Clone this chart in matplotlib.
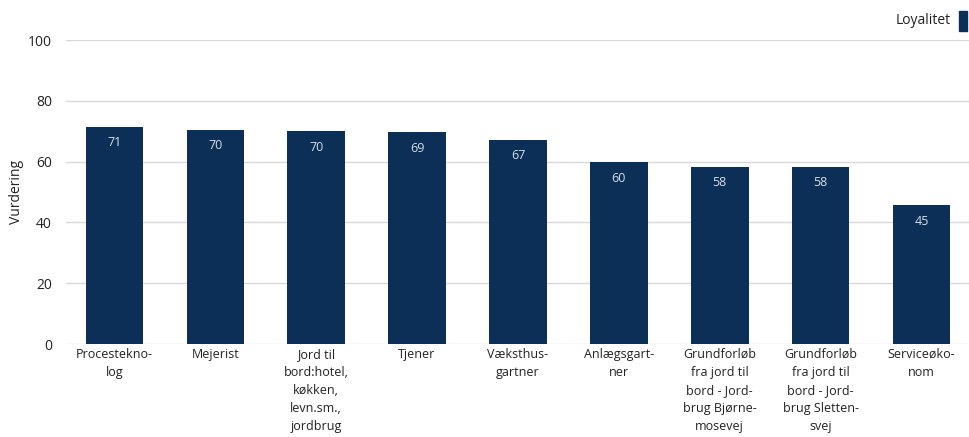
import numpy as np
import matplotlib.pyplot as plt
from matplotlib.patches import Rectangle

plt.rcParams['font.family'] = ['Open Sans', 'DejaVu Sans']

# data
categories = [
    "Procestekno-\nlog",
    "Mejerist",
    "Jord til\nbord:hotel,\nkøkken,\nlevn.sm.,\njordbrug",
    "Tjener",
    "Væksthus-\ngartner",
    "Anlægsgart-\nner",
    "Grundforløb\nfra jord til\nbord - Jord-\nbrug Bjørne-\nmosevej",
    "Grundforløb\nfra jord til\nbord - Jord-\nbrug Sletten-\nsvej",
    "Serviceøko-\nnom",
]
values = [71.4, 70.4, 70.0, 69.6, 67.1, 59.8, 58.2, 58.2, 45.6]
labels = ["71", "70", "70", "69", "67", "60", "58", "58", "45"]
series_name = "Loyalitet"
bar_color = "#0b2f57"

W, H = 970, 437
fig = plt.figure(figsize=(W / 100, H / 100), dpi=100)
ax = fig.add_axes([66 / W, 1 - 344 / H, 904 / W, 304 / H])

x = np.arange(len(categories))
ax.bar(x, values, width=0.57, color=bar_color, zorder=3)
for xi, v, lab in zip(x, values, labels):
  ax.text(xi, v - 5.2, lab, ha="center", va="center", color="#d8dde4",
          fontsize=9, zorder=4)

ax.set_xlim(-0.48, len(categories) - 0.52)
ax.set_ylim(0, 100)
ax.set_yticks([0, 20, 40, 60, 80, 100])
ax.set_xticks(x)
ax.set_xticklabels(categories, fontsize=9, color="#222222", linespacing=1.5)
ax.tick_params(axis="y", labelsize=10, colors="#222222", length=0, pad=10)
ax.tick_params(axis="x", length=0, pad=3)
ax.grid(axis="y", color="#d9d9d9", linewidth=1, zorder=0)
for s in ax.spines.values():
  s.set_visible(False)
ax.set_ylabel("Vurdering", fontsize=10, color="#222222", labelpad=3)

# legend: label + tall swatch at top right
fig.text(951 / W, 1 - 21 / H, series_name, ha="right", va="center",
         fontsize=10, color="#222222")
fig.patches.append(Rectangle((959 / W, 1 - 31 / H), 8 / W, 20 / H,
                             transform=fig.transFigure, color=bar_color))

fig.savefig("out.png", dpi=100)
